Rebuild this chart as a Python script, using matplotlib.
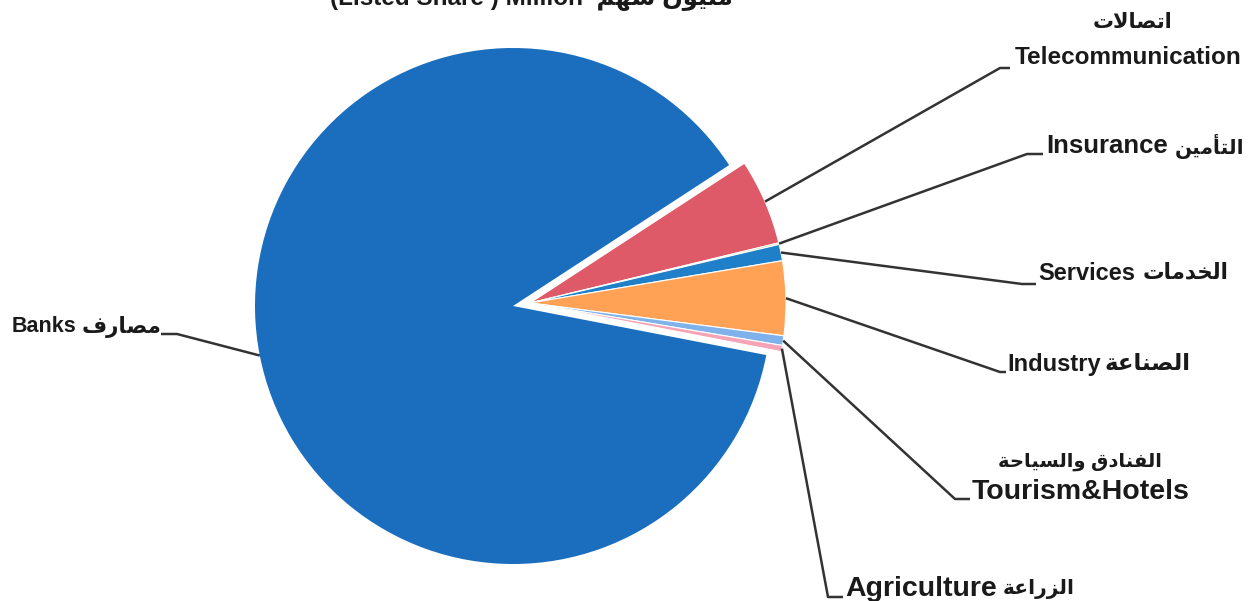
import matplotlib
matplotlib.use("Agg")
import matplotlib.pyplot as plt
import numpy as np

# ---------------- data ----------------
sectors_en = ["Telecommunication", "Insurance", "Services", "Industry",
              "Tourism&Hotels", "Agriculture"]
sectors_ar = ["اتصالات", "التأمين", "الخدمات", "الصناعة",
              "الفنادق والسياحة", "الزراعة"]
small_values = [5.42, 0.10, 1.03, 4.69, 0.61, 0.39]
banks_en = "Banks"
banks_ar = "مصارف"
banks_value = 87.76
small_colors = ["#de5a68", "#8fcf5f", "#1f7fc8", "#ffa256", "#7fb2ea", "#f5a3b5"]
banks_color = "#1b6ebe"
title_en = "(Listed Share ) Million"
title_ar = "مليون سهم"

# ---------------- minimal Arabic shaping ----------------
ARABIC = {
    'ا': ('\uFE8D', '\uFE8E', None, None),
    'أ': ('\uFE83', '\uFE84', None, None),
    'ت': ('\uFE95', '\uFE96', '\uFE97', '\uFE98'),
    'ة': ('\uFE93', '\uFE94', None, None),
    'ح': ('\uFEA1', '\uFEA2', '\uFEA3', '\uFEA4'),
    'خ': ('\uFEA5', '\uFEA6', '\uFEA7', '\uFEA8'),
    'د': ('\uFEA9', '\uFEAA', None, None),
    'ر': ('\uFEAD', '\uFEAE', None, None),
    'ز': ('\uFEAF', '\uFEB0', None, None),
    'س': ('\uFEB1', '\uFEB2', '\uFEB3', '\uFEB4'),
    'ص': ('\uFEB9', '\uFEBA', '\uFEBB', '\uFEBC'),
    'ع': ('\uFEC9', '\uFECA', '\uFECB', '\uFECC'),
    'ف': ('\uFED1', '\uFED2', '\uFED3', '\uFED4'),
    'ق': ('\uFED5', '\uFED6', '\uFED7', '\uFED8'),
    'ل': ('\uFEDD', '\uFEDE', '\uFEDF', '\uFEE0'),
    'م': ('\uFEE1', '\uFEE2', '\uFEE3', '\uFEE4'),
    'ن': ('\uFEE5', '\uFEE6', '\uFEE7', '\uFEE8'),
    'ه': ('\uFEE9', '\uFEEA', '\uFEEB', '\uFEEC'),
    'و': ('\uFEED', '\uFEEE', None, None),
    'ي': ('\uFEF1', '\uFEF2', '\uFEF3', '\uFEF4'),
}
LAM_ALEF = {'ا': ('\uFEFB', '\uFEFC'), 'أ': ('\uFEF7', '\uFEF8')}


def _dual(c):
    return c in ARABIC and ARABIC[c][2] is not None


def shape(s):
    out = []
    i, n = 0, len(s)
    prev = None
    while i < n:
        c = s[i]
        if c not in ARABIC:
            out.append(c)
            prev = None
            i += 1
            continue
        jp = prev is not None and _dual(prev)
        if c == 'ل' and i + 1 < n and s[i + 1] in LAM_ALEF:
            out.append(LAM_ALEF[s[i + 1]][1 if jp else 0])
            prev = s[i + 1]
            i += 2
            continue
        nxt = s[i + 1] if i + 1 < n else None
        jn = _dual(c) and nxt in ARABIC
        iso, fin, ini, med = ARABIC[c]
        out.append(med if (jp and jn) else fin if jp else ini if jn else iso)
        prev = c
        i += 1
    return ''.join(reversed(out))


# ---------------- figure ----------------
W, H = 1256, 601
plt.rcParams['font.family'] = ['Liberation Sans', 'DejaVu Sans']
fig = plt.figure(figsize=(W / 100, H / 100), dpi=100)
ax = fig.add_axes([0, 0, 1, 1])


def P(x, y):
    """image pixel coords -> data coords"""
    return (x, H - y)


total = sum(small_values) + banks_value
start = 33.1
small_frac = [v / total for v in small_values]
wedges_small, _ = ax.pie(small_frac, colors=small_colors, normalize=False,
                         startangle=start, counterclock=False,
                         center=P(530, 303), radius=256,
                         wedgeprops=dict(edgecolor='white', linewidth=0.8))
wedges_banks, _ = ax.pie([banks_value / total], colors=[banks_color], normalize=False,
                         startangle=start - 360 * sum(small_frac), counterclock=False,
                         center=P(513, 306), radius=258,
                         wedgeprops=dict(edgecolor='none'))

ax.set_xlim(0, W)
ax.set_ylim(0, H)
ax.set_aspect('equal')
ax.axis('off')


def anchor(w):
    mid = np.deg2rad((w.theta1 + w.theta2) / 2)
    cx, cy = w.center
    return (cx + w.r * np.cos(mid), cy + w.r * np.sin(mid))


line_kw = dict(color='#333333', lw=1.8, solid_capstyle='butt')
TC = '#1a1a1a'

# leader layouts: (elbow, stub end) in image pixels
layout = [
    ((1000, 68), (1010, 68)),    # telecom
    ((1027, 154), (1043, 154)),  # insurance
    ((1022, 284), (1036, 284)),  # services
    ((1000, 372), (1006, 372)),  # industry
    ((955, 499), (970, 499)),    # tourism
    ((828, 597), (843, 597)),    # agriculture
]
for w, (e, s) in zip(wedges_small, layout):
    a = anchor(w)
    ex, ey = P(*e)
    sx, sy = P(*s)
    ax.plot([a[0], ex, sx], [a[1], ey, sy], **line_kw)

# banks leader
a = anchor(wedges_banks[0])
ex, ey = P(177, 334)
sx, sy = P(161, 334)
ax.plot([a[0], ex, sx], [a[1], ey, sy], **line_kw)


def inline_label(pos, en, ar, fs_en, fs_ar, gap=5):
    t = ax.text(*P(*pos), en, ha='left', va='center', fontsize=fs_en,
                fontweight='bold', color=TC)
    ax.annotate(shape(ar), xy=(1, 0.5), xycoords=t, xytext=(gap, 0),
                textcoords='offset pixels', ha='left', va='center',
                fontsize=fs_ar, fontweight='bold', color=TC)


# telecom two-line label
ax.text(*P(1128, 57), sectors_en[0], ha='center', va='center',
        fontsize=17.5, fontweight='bold', color=TC)
ax.text(*P(1133, 22), shape(sectors_ar[0]), ha='center', va='center',
        fontsize=15, fontweight='bold', color=TC)
# single-line labels
inline_label((1046, 146), sectors_en[1], sectors_ar[1], 18.5, 14.5, gap=7)
inline_label((1038, 273), sectors_en[2], sectors_ar[2], 17, 15.5, gap=8)
inline_label((1007, 364), sectors_en[3], sectors_ar[3], 17, 16.5, gap=4)
# tourism two-line
ax.text(*P(972, 492), sectors_en[4], ha='left', va='center',
        fontsize=20.5, fontweight='bold', color=TC)
ax.text(*P(1080, 462), shape(sectors_ar[4]), ha='center', va='center',
        fontsize=14, fontweight='bold', color=TC)
inline_label((845, 589), sectors_en[5], sectors_ar[5], 20.5, 14.5, gap=6)
inline_label((12, 327), banks_en, banks_ar, 15.5, 15.5, gap=5)

# clipped title
ax.text(*P(330, -2), title_en + "  " + shape(title_ar), ha='left', va='center',
        fontsize=17.5, fontweight='bold', color=TC)

fig.savefig("out.png", dpi=100, facecolor='white')
